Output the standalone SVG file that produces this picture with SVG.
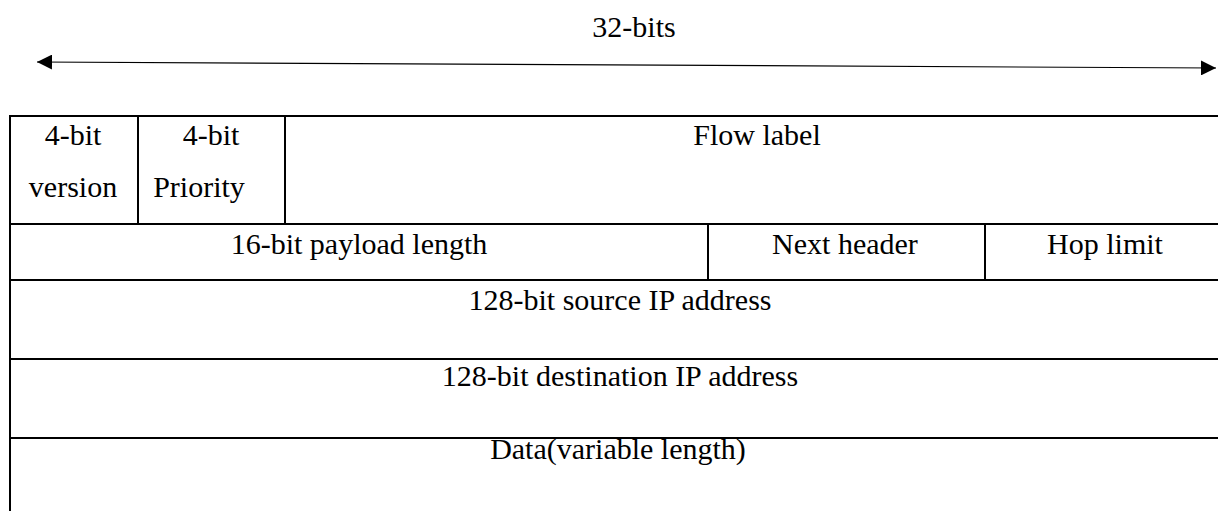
<svg xmlns="http://www.w3.org/2000/svg" width="1218" height="511" viewBox="0 0 1218 511">
<style>
text{font-family:"Liberation Serif","Times New Roman",serif;font-size:30px;fill:#000;text-anchor:middle}
.b{stroke:#000;stroke-width:2;fill:none}
.a{stroke:#000;stroke-width:1.2;fill:none}
</style>
<defs>
<marker id="ah" viewBox="0 0 15 15" refX="15" refY="7.5" markerWidth="15" markerHeight="15" markerUnits="userSpaceOnUse" orient="auto-start-reverse">
<path d="M0,0 L15,7.5 L0,15 Z" fill="#000"/>
</marker>
</defs>
<g id="connectors">
<line class="a" x1="37" y1="62" x2="1216" y2="68" marker-start="url(#ah)" marker-end="url(#ah)"/>
</g>
<text id="width-label" x="634" y="37">32-bits</text>
<g id="table-grid">
<path class="b" d="M1230,116 H10 V520 M10,224 H1230 M10,280 H1230 M10,359 H1230 M10,438 H1230 M138,116 V224 M285,116 V224 M708,224 V280 M985,224 V280"/>
</g>
<g id="version"><text x="73" y="145">4-bit</text><text x="73" y="197">version</text></g>
<g id="priority"><text x="211" y="145">4-bit</text><text x="199" y="197">Priority</text></g>
<g id="flow-label"><text x="757" y="145">Flow label</text></g>
<g id="payload-length"><text x="359" y="254">16-bit payload length</text></g>
<g id="next-header"><text x="845" y="254">Next header</text></g>
<g id="hop-limit"><text x="1105" y="254">Hop limit</text></g>
<g id="source-address"><text x="620" y="310">128-bit source IP address</text></g>
<g id="destination-address"><text x="620" y="386">128-bit destination IP address</text></g>
<g id="data"><text x="618" y="459">Data(variable length)</text></g>
</svg>
